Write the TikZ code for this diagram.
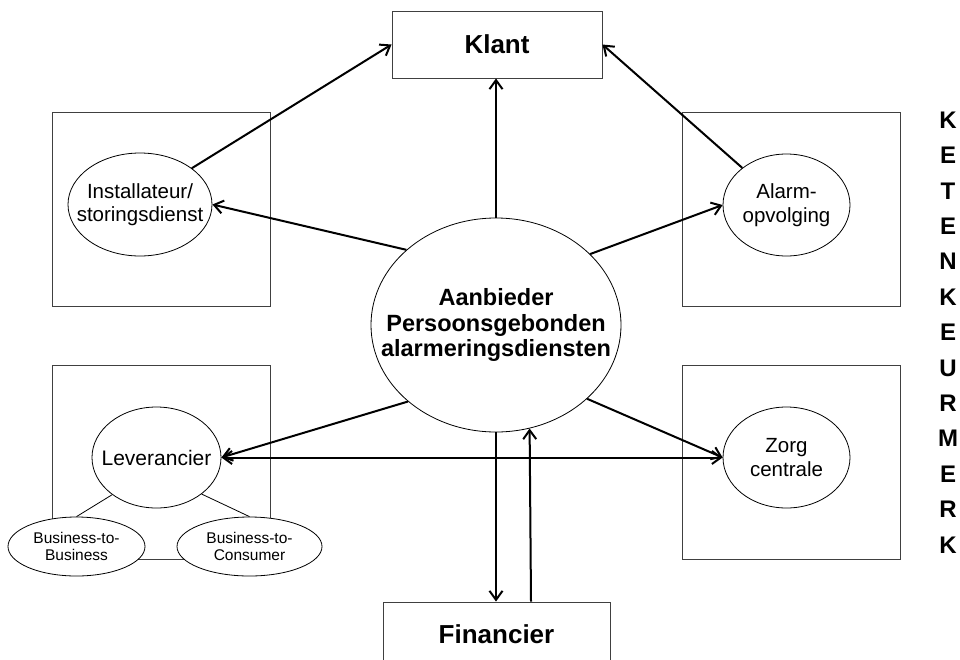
\documentclass[tikz,border=0pt]{standalone}
\usepackage{fontspec}
\setmainfont{Liberation Sans}
\usetikzlibrary{shapes.geometric,arrows.meta}
\begin{document}
\begin{tikzpicture}[x=1pt,y=-1pt,
  frame/.style={draw=black!75, line width=0.9pt},
  oval/.style={ellipse, draw=black, line width=0.8pt, fill=white, inner xsep=-40pt, inner ysep=0pt, align=center},
  box/.style={rectangle, draw=black!75, line width=0.9pt, fill=white, inner sep=0pt},
  smallfont/.style={font=\fontsize{20.5}{23.5}\selectfont},
  tinyfont/.style={font=\fontsize{15.5}{17.5}\selectfont},
  tip/.tip={Straight Barb[length=9pt,width=13pt,line width=2pt]},
  arr/.style={line width=2pt, -tip},
  arrboth/.style={line width=2pt, tip-tip},
  thinline/.style={draw=black, line width=0.8pt}
]
\useasboundingbox (0,0) rectangle (960,659);
\clip (0,0) rectangle (960,659);

% frames
\draw[frame] (52,112) rectangle (270,306);
\draw[frame] (682,112) rectangle (900,306);
\draw[frame] (52,365) rectangle (270,559);
\draw[frame] (682,365) rectangle (900,559);

% boxes
\node[box, minimum width=210pt, minimum height=67pt, font=\bfseries\fontsize{26}{30}\selectfont] (klant) at (497,44.5) {Klant};
\node[box, minimum width=227pt, minimum height=64pt, font=\bfseries\fontsize{26}{30}\selectfont] (fin) at (496.5,634) {Financier};

% ellipses
\node[oval, minimum width=250pt, minimum height=214pt, font=\bfseries\fontsize{23.5}{25.5}\selectfont] (c) at (496,325) {Aanbieder\\Persoonsgebonden\\alarmeringsdiensten};
\node[oval, smallfont, minimum width=144pt, minimum height=103pt] (i) at (140,204.5) {Installateur/\\storingsdienst};
\node[oval, smallfont, minimum width=127pt, minimum height=102pt] (a) at (786.5,205) {Alarm-\\opvolging};
\node[oval, font=\fontsize{21}{24}\selectfont, minimum width=129pt, minimum height=101pt] (l) at (156.5,457.5) {Leverancier};
\node[oval, smallfont, minimum width=127pt, minimum height=101pt] (z) at (786.5,457.5) {Zorg\\centrale};
\node[oval, tinyfont, minimum width=137pt, minimum height=59pt] (b2b) at (76.5,546.5) {Business-to-\\Business};
\node[oval, tinyfont, minimum width=145pt, minimum height=59pt] (b2c) at (249.5,546.5) {Business-to-\\Consumer};

% vertical label
\node[font=\bfseries\fontsize{24}{35.4}\selectfont, align=center, inner sep=0pt] (kk) at (948,332.5) {K\\E\\T\\E\\N\\K\\E\\U\\R\\M\\E\\R\\K};

% thin lines
\draw[thinline] (l.220) -- (b2b.north);
\draw[thinline] (l.321) -- (b2c.north);

% arrows
\draw[arr] (i.35.4) -- (klant.west);
\draw[arr] (c.north) -- (c.north |- klant.south);
\draw[arr] (a.140.6) -- (klant.east);
\draw[arr] (c.140) -- (i.east);
\draw[arr] (c.37) -- (a.west);
\draw[arr] (c.221.6) -- (l.east);
\draw[arr] (c.321.3) -- (z.west);
\draw[arrboth] (l.east) -- (z.west);
\draw[arr] (c.south) -- (c.south |- fin.north);
\draw[arr] ([xshift=34.5pt]fin.north) -- (c.288.8);
\end{tikzpicture}
\end{document}
